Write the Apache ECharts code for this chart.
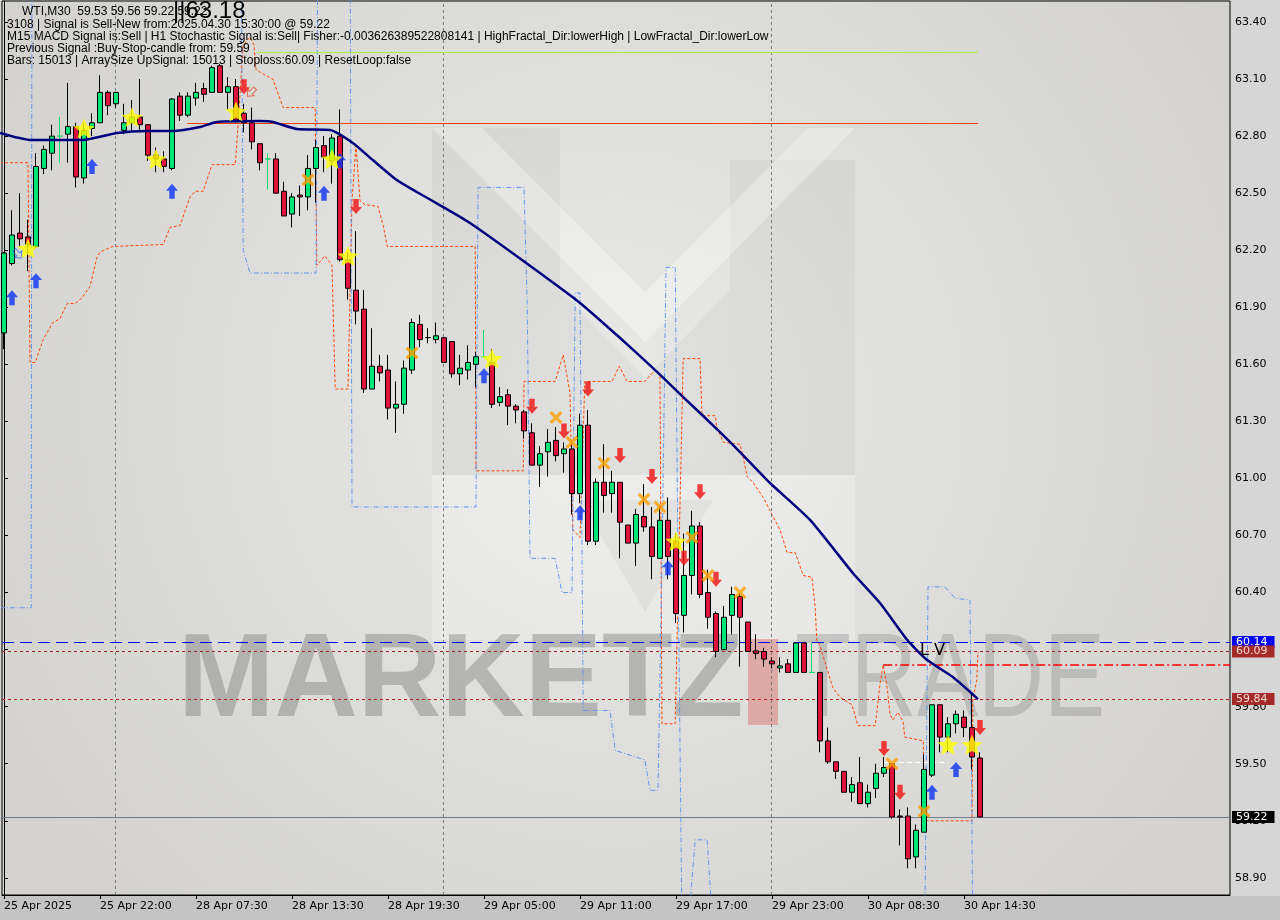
<!DOCTYPE html>
<html><head><meta charset="utf-8">
<script src="https://cdn.jsdelivr.net/npm/echarts@6.0.0/dist/echarts.min.js"></script>
<style>
html,body{margin:0;padding:0;}
#main{width:1280px;height:920px;background:linear-gradient(to bottom,#d6d6d6 0px,#d6d6d6 896px,#c4c4c4 896px,#c4c4c4 920px);}
</style>
</head><body><div id="main"></div>
<script>
// ---- candles (WTI M30), bar index 0..122 ----
const opens = [61.765,62.13,62.29,62.27,62.22,62.63,62.71,62.80,62.81,62.85,
62.58,62.84,62.87,63.03,62.97,62.83,62.87,62.90,62.86,62.70,
62.68,62.63,63.01,62.91,63.00,63.05,63.03,63.17,63.03,63.06,
62.92,62.87,62.76,62.68,62.68,62.51,62.39,62.49,62.48,62.63,
62.75,62.67,62.80,62.15,61.99,61.89,61.47,61.59,61.57,61.37,
61.39,61.57,61.81,61.74,61.73,61.74,61.72,61.55,61.57,61.60,
61.64,61.61,61.40,61.44,61.38,61.35,61.24,61.07,61.14,61.20,
61.13,61.155,60.92,61.28,60.67,60.98,60.92,60.98,60.755,60.66,
60.80,60.745,60.58,60.78,60.67,60.28,60.49,60.75,60.40,60.29,
60.10,60.28,60.38,60.245,60.093,60.09,60.04,60.003,60.025,59.98,
60.135,59.98,59.98,59.62,59.51,59.46,59.35,59.40,59.29,59.37,
59.45,59.50,59.225,59.225,59.01,59.14,59.44,59.81,59.64,59.71,
59.745,59.69,59.53];
const highs = [62.19,62.41,62.50,62.36,62.71,62.75,62.86,62.90,63.08,62.87,
62.87,62.92,63.12,63.04,63.03,62.97,62.99,63.10,62.86,62.74,
62.72,63.00,63.03,63.03,63.08,63.08,63.17,63.18,63.11,63.10,
62.97,62.95,62.76,62.71,62.71,62.56,62.50,62.54,62.70,62.78,
62.80,62.81,62.94,62.19,62.30,61.99,61.79,61.65,61.65,61.51,
61.62,61.84,61.86,61.79,61.82,61.74,61.72,61.65,61.70,61.665,
61.78,61.68,61.48,61.47,61.39,61.36,61.29,61.17,61.26,61.27,
61.19,61.19,61.34,61.36,61.00,61.18,61.04,60.98,60.755,60.84,
60.97,60.85,60.86,60.90,60.71,60.71,60.83,60.77,60.52,60.30,
60.33,60.43,60.40,60.245,60.18,60.11,60.06,60.06,60.05,60.135,
60.14,60.135,59.98,59.69,59.51,59.46,59.43,59.535,59.39,59.50,
59.535,59.50,59.26,59.27,59.18,59.55,59.81,59.81,59.745,59.78,
59.78,59.87,59.56];
const lows = [61.68,62.12,62.22,62.09,62.21,62.60,62.62,62.66,62.66,62.53,
62.55,62.80,62.87,62.91,62.95,62.81,62.82,62.82,62.67,62.61,
62.61,62.62,62.88,62.90,62.96,62.98,63.03,63.03,62.94,62.87,
62.82,62.73,62.62,62.52,62.50,62.38,62.32,62.38,62.41,62.45,
62.61,62.55,62.14,61.94,61.81,61.45,61.47,61.51,61.31,61.24,
61.34,61.55,61.69,61.71,61.71,61.61,61.53,61.49,61.52,61.48,
61.64,61.37,61.38,61.28,61.29,61.21,61.07,60.955,61.01,61.09,
61.03,60.81,60.87,60.65,60.65,60.82,60.82,60.58,60.66,60.54,
60.72,60.47,60.58,60.47,60.24,60.19,60.39,60.37,60.21,60.06,
60.10,60.18,60.01,60.09,60.05,60.01,60.00,59.98,59.98,59.98,
59.98,59.98,59.56,59.50,59.42,59.35,59.30,59.29,59.27,59.32,
59.43,59.21,59.07,58.95,58.95,59.14,59.43,59.56,59.56,59.66,
59.64,59.47,59.22];
const closes = [62.185,62.28,62.26,62.23,62.64,62.73,62.80,62.80,62.85,62.585,
62.83,62.87,63.03,62.96,63.03,62.87,62.90,62.86,62.70,62.68,
62.64,62.995,62.91,63.01,63.03,63.02,63.16,63.03,63.06,62.885,
62.87,62.77,62.66,62.68,62.50,62.38,62.48,62.48,62.63,62.74,
62.69,62.79,62.15,62.00,61.88,61.47,61.59,61.555,61.37,61.39,
61.58,61.82,61.73,61.741,61.75,61.61,61.55,61.58,61.61,61.64,
61.64,61.39,61.43,61.38,61.36,61.25,61.07,61.13,61.19,61.12,
61.155,60.92,61.28,60.67,60.98,60.91,60.98,60.77,60.66,60.81,
60.745,60.59,60.78,60.59,60.29,60.49,60.75,60.39,60.27,60.09,
60.27,60.39,60.27,60.09,60.08,60.05,60.025,60.014,59.98,60.135,
59.98,59.98,59.62,59.51,59.46,59.35,59.39,59.29,59.35,59.45,
59.48,59.22,59.22,59.00,59.15,59.47,59.81,59.64,59.71,59.76,
59.69,59.535,59.22];

// ---- axes ----
const tickBars = [0,12,24,36,48,60,72,84,96,108,120];
const tickLabels = ['25 Apr 2025','25 Apr 22:00','28 Apr 07:30','28 Apr 13:30','28 Apr 19:30','29 Apr 05:00','29 Apr 11:00','29 Apr 17:00','29 Apr 23:00','30 Apr 08:30','30 Apr 14:30'];
const yTicks = [58.90,59.20,59.50,59.80,60.10,60.40,60.70,61.00,61.30,61.60,61.90,62.20,62.50,62.80,63.10,63.40];

// ---- moving average ----
const maBars = [-0.5,3.25,9.875,14.125,17.875,21.125,24.5,26.625,32,33.6,36.6,40.75,43.6,46.1,49.1,51.6,54.9,58.25,65.1,72,76.6,81.1,84.9,89.5,92,95.75,100.75,106.1,109.5,112.9,115.4,118.6,121.75];
const maValues = [62.816,62.78,62.78,62.816,62.827,62.827,62.848,62.874,62.879,62.874,62.837,62.832,62.764,62.674,62.569,62.506,62.427,62.343,62.138,61.923,61.754,61.581,61.428,61.244,61.139,60.976,60.782,60.503,60.345,60.151,60.045,59.956,59.84];

// ---- upper (orange) channel ----
const upBandBars = [-0.5,3.0,3.25,3.9,4.9,6.1,7.0,7.9,8.9,9.75,10.75,11.6,12.0,13.6,19.9,20.75,22.0,23.25,23.9,24.9,26.0,28.9,29.1,29.5,29.9,30.75,31.25,31.5,32.25,33.6,34.9,38.9,39.1,40.1,41.0,41.4,43.0,43.5,44.0,44.5,45.1,46.75,47.4,47.9,58.9,59.0,64.9,65.0,68.9,69.9,70.75,71.1,72.0,72.6,76.0,76.9,77.9,80.1,81.4,82.0,82.25,83.9,84.9,87.0,87.25,88.9,89.1,89.9,92.0,92.4,92.9,93.6,94.9,96.0,97.0,97.9,98.9,99.9,101.0,101.4,101.6,102.0,103.6,104.5,106.0,106.75,108.9,109.1,109.5,109.9,110.4,110.75,111.1,111.75,112.4,112.6,114.9,115.1,121.0,121.1,121.6,121.75];
const upBandValues = [62.66,62.66,61.61,61.61,61.73,61.82,61.84,61.92,61.92,61.95,62.01,62.16,62.19,62.22,62.23,62.32,62.33,62.48,62.51,62.51,62.65,62.65,62.76,63.02,63.28,63.32,63.28,63.15,63.13,63.10,62.95,62.95,62.12,62.17,62.12,61.47,61.47,62.46,62.75,62.46,62.44,62.43,62.33,62.22,62.22,61.04,61.04,61.51,61.51,61.65,61.45,60.73,60.69,61.51,61.51,61.59,61.51,61.51,61.57,61.55,59.71,59.71,61.63,61.63,61.33,61.33,61.27,61.19,61.18,61.11,61.01,60.98,60.90,60.81,60.73,60.61,60.61,60.49,60.48,60.32,60.15,60.12,59.90,59.85,59.81,59.70,59.70,59.77,59.92,60.02,59.90,59.76,59.73,59.77,59.72,59.64,59.62,59.20,59.20,59.84,59.94,60.09];

// ---- lower (blue) channel ----
const lowBandBars = [-0.5,3.4,3.5,29.6,29.9,30.75,39.0,39.25,43.25,43.5,59.0,59.25,65.0,65.4,65.75,68.9,69.75,71.0,71.4,72.0,72.4,75.75,76.4,80.1,80.75,81.75,82.25,82.75,83.9,84.25,84.75,85.5,86.4,87.9,88.6,115.1,115.5,117.6,118.9,120.75,121.1];
const lowBandValues = [60.32,60.32,64.0,64.0,62.20,62.08,62.08,64.0,64.0,60.85,60.85,62.53,62.53,61.92,60.58,60.58,60.40,60.40,61.975,61.975,59.78,59.78,59.57,59.52,59.36,59.36,60.57,62.11,62.11,60.57,58.63,58.63,59.10,59.10,58.63,58.63,60.43,60.43,60.37,60.36,58.63];

// ---- signal markers ----
const upArrowBars = [1,4,11,21,40,42,60,72,83,116,119];
const upArrowPrices = [61.95,62.04,62.64,62.51,62.50,62.67,61.54,60.82,60.53,59.35,59.47];
const downArrowBars = [30,44,66,70,73,77,81,85,87,89,110,112,122];
const downArrowPrices = [63.06,62.43,61.38,61.25,61.47,61.12,61.01,60.58,60.93,60.47,59.58,59.35,59.69];
const starBars = [3,10,16,19,29,41,43,61,84,118,121];
const starPrices = [62.21,62.84,62.90,62.68,62.93,62.68,62.17,61.63,60.67,59.60,59.60];
const crossBars = [38,51,69,71,75,80,82,86,88,92,111,115];
const crossPrices = [62.57,61.66,61.32,61.19,61.08,60.89,60.85,60.69,60.49,60.40,59.50,59.25];
const hollowUpBars = [1.75];
const hollowUpPrices = [62.18];
const hollowDownBars = [30.9];
const hollowDownPrices = [63.03];

// ---- levels ----
const levelHigh = 60.14, levelStop = 60.09, levelRed = 59.84, levelLast = 59.22;
const entryLevel = 60.02, entryStartBar = 109.9;
const whiteLevel = 59.51, whiteBars = [109.9, 118];
const greenLevel = 63.24, greenBars = [31.6, 121.75];
const orangeLevel = 62.87, orangeBars = [22.9, 121.75];
const daySeparators = [13.875, 54.875, 95.875];

const headerLines = [
  'WTI,M30  59.53 59.56 59.22 59.22',
  '3108 | Signal is Sell-New from:2025.04.30 15:30:00 @ 59.22',
  'M15 MACD Signal is:Sell | H1 Stochastic Signal is:Sell| Fisher:-0.00362638952280814​1 | HighFractal_Dir:lowerHigh | LowFractal_Dir:lowerLow',
  'Previous Signal :Buy-Stop-candle from: 59.59',
  'Bars: 15013 | ArraySize UpSignal: 15013 | Stoploss:60.09 | ResetLoop:false'
];

const chart = echarts.init(document.getElementById('main'), null, {width:1280, height:920});
const pair = (xs, ys) => xs.map((x, i) => [x, ys[i]]);
const candleData = opens.map((o, i) => [i, o, closes[i], lows[i], highs[i]]);

const ARROW_UP = 'path://M6,0 L12,6.5 L8.7,6.5 L8.7,14 L3.3,14 L3.3,6.5 L0,6.5 Z';
const ARROW_DOWN = 'path://M6,14 L12,7.5 L8.7,7.5 L8.7,0 L3.3,0 L3.3,7.5 L0,7.5 Z';
const STAR = 'path://M10,0 L12.9,6.9 L20,7.6 L14.6,12.3 L16.2,19.5 L10,15.8 L3.8,19.5 L5.4,12.3 L0,7.6 L7.1,6.9 Z';
const CROSS = 'path://M0,2.5 L2.5,0 L7,4.5 L11.5,0 L14,2.5 L9.5,7 L14,11.5 L11.5,14 L7,9.5 L2.5,14 L0,11.5 L4.5,7 Z';

const lvlLabel = (txt, bg, fg) => ({show:true, position:'end', distance:2, formatter: txt, backgroundColor: bg, color: fg, fontSize:11, fontFamily:'DejaVu Sans', padding:[1,7,0,4]});

const option = {
  animation: false,
  backgroundColor: 'transparent',
  grid: {left:2, right:50, top:1, bottom:25, show:true, borderColor:'#000', borderWidth:1,
    backgroundColor: new echarts.graphic.RadialGradient(0.5, 0.45, 0.8, [{offset:0,color:'#e9e9e7'},{offset:1,color:'#d3d2cf'}])},
  xAxis: {type:'value', min:-0.25, max:153.25,
    axisLine:{show:true, lineStyle:{color:'#000'}},
    axisTick:{show:true, customValues: tickBars, length:4, lineStyle:{color:'#000'}},
    axisLabel:{customValues: tickBars, formatter: v => { const k = tickBars.indexOf(Math.round(v)); return k >= 0 ? tickLabels[k] : ''; },
      align:'left', margin:6, fontSize:11, fontFamily:'DejaVu Sans', color:'#000'},
    splitLine:{show:false}},
  yAxis: {type:'value', position:'right', min:58.8097, max:63.5104,
    axisLine:{show:true, lineStyle:{color:'#000'}},
    axisTick:{show:true, customValues: yTicks, length:4, lineStyle:{color:'#000'}},
    axisLabel:{customValues: yTicks, formatter: v => v.toFixed(2), margin:5, fontSize:11, fontFamily:'DejaVu Sans', color:'#000'},
    splitLine:{show:false}},
  graphic: [
    {type:'rect', z:1, silent:true, shape:{x:432,y:128,width:128,height:347}, style:{fill:'rgba(0,0,0,0.035)'}},
    {type:'rect', z:1, silent:true, shape:{x:730,y:160,width:125,height:315}, style:{fill:'rgba(0,0,0,0.035)'}},
    {type:'polygon', z:1, silent:true, shape:{points:[[560,290],[645,378],[730,290],[730,475],[560,475]]}, style:{fill:'rgba(0,0,0,0.03)'}},
    {type:'polygon', z:1, silent:true, shape:{points:[[432,128],[482,128],[645,292],[808,128],[855,128],[645,342]]}, style:{fill:'rgba(255,255,255,0.3)'}},
    {type:'rect', z:1, silent:true, shape:{x:432,y:475,width:423,height:165}, style:{fill:'rgba(255,255,255,0.25)'}},
    {type:'polygon', z:1, silent:true, shape:{points:[[580,500],[713,500],[645,612]]}, style:{fill:'rgba(0,0,0,0.04)'}},
    {type:'text', z:1, silent:true, x:178, y:683, scaleX:0.98, style:{text:'MARKETZ', font:'bold 118px "Liberation Sans"', fill:'rgba(110,110,110,0.38)', verticalAlign:'middle', align:'left'}},
    {type:'rect', z:1, silent:true, shape:{x:748,y:639,width:30,height:86}, style:{fill:'rgba(220,60,60,0.33)'}},
    {type:'text', z:1, silent:true, x:795, y:683, scaleX:0.775, style:{text:'TRADE', font:'118px "Liberation Sans"', fill:'rgba(120,120,120,0.3)', verticalAlign:'middle', align:'left'}},
    {type:'text', z:50, silent:true, x:920, y:643, style:{text:'L V', font:'16px "DejaVu Sans"', fill:'#000', verticalAlign:'top'}},
    {type:'text', z:100, silent:true, x:22, y:6, style:{text: headerLines[0], font:'12px "Liberation Sans"', fill:'#000', verticalAlign:'top'}},
    {type:'text', z:100, silent:true, x:7, y:19, style:{text: headerLines[1], font:'12px "Liberation Sans"', fill:'#000', verticalAlign:'top'}},
    {type:'text', z:100, silent:true, x:7, y:31, style:{text: headerLines[2], font:'12px "Liberation Sans"', fill:'#000', verticalAlign:'top'}},
    {type:'text', z:100, silent:true, x:7, y:43, style:{text: headerLines[3], font:'12px "Liberation Sans"', fill:'#000', verticalAlign:'top'}},
    {type:'text', z:100, silent:true, x:7, y:55, style:{text: headerLines[4], font:'12px "Liberation Sans"', fill:'#000', verticalAlign:'top'}},
    {type:'text', z:101, silent:true, x:173, y:-1, style:{text:'||63.18', font:'24px "Liberation Sans"', fill:'#000', verticalAlign:'top'}}
  ],
  series: [
    {type:'line', z:3, data:[[-10,0]], symbol:'none', silent:true,
      markLine:{silent:true, symbol:['none','none'], animation:false,
        data:[
          ...daySeparators.map(b => ({xAxis:b, lineStyle:{color:'#7a7a7a', type:[3,3], width:1}, label:{show:false}})),
          {yAxis: levelHigh, lineStyle:{color:'#0000ff', type:[12,6], width:1}, label: lvlLabel('60.14','#0000ff','#ffffff')},
          {yAxis: levelStop, lineStyle:{color:'#9a2424', type:[3,3], width:1}, label: lvlLabel('60.09','#a52a2a','#f0d8d0')},
          {yAxis: levelRed, lineStyle:{color:'#b02020', type:[3,3], width:1}, label: lvlLabel('59.84','#a52a2a','#f0d8d0')},
          {yAxis: levelLast, lineStyle:{color:'#6c7c8c', type:'solid', width:1}, label: lvlLabel('59.22','#000000','#ffffff')},
          [{coord:[entryStartBar, entryLevel], lineStyle:{color:'#ff0000', type:[9,3,2,3], width:1.5}, label:{show:false}}, {coord:[153.25, entryLevel]}],
          [{coord:[whiteBars[0], whiteLevel], lineStyle:{color:'#ffffff', type:[5,3], width:1}, label:{show:false}}, {coord:[whiteBars[1], whiteLevel]}],
          [{coord:[greenBars[0], greenLevel], lineStyle:{color:'#a8f040', type:'solid', width:1}, label:{show:false}}, {coord:[greenBars[1], greenLevel]}],
          [{coord:[orangeBars[0], orangeLevel], lineStyle:{color:'#ff4500', type:'solid', width:1.2}, label:{show:false}}, {coord:[orangeBars[1], orangeLevel]}]
        ]}},
    {type:'line', z:4, data: pair(upBandBars, upBandValues), symbol:'none', silent:true, lineStyle:{color:'#ff4500', width:1, type:[3,2]}},
    {type:'line', z:4, data: pair(lowBandBars, lowBandValues), symbol:'none', silent:true, lineStyle:{color:'#6495ed', width:1, type:[5,2,1,2]}},
    {type:'candlestick', z:5, data: candleData, encode:{x:0, y:[1,2,3,4]}, barWidth:5,
      itemStyle:{color:'#00e676', color0:'#dc143c', borderColor:'#000', borderColor0:'#000', borderColorDoji:'#00d96a', borderWidth:1}},
    {type:'line', z:6, data: pair(maBars, maValues), symbol:'none', silent:true, smooth:0.2, lineStyle:{color:'#00007f', width:2.5}},
    {type:'scatter', z:8, data: pair(upArrowBars, upArrowPrices), symbol: ARROW_UP, symbolSize:[12,15], itemStyle:{color:'#0a32f0'}},
    {type:'scatter', z:8, data: pair(downArrowBars, downArrowPrices), symbol: ARROW_DOWN, symbolSize:[12,15], itemStyle:{color:'#f01010'}},
    {type:'scatter', z:8, data: pair(hollowUpBars, hollowUpPrices), symbol: ARROW_UP, symbolRotate:-135, symbolSize:[9,11], itemStyle:{color:'transparent', borderColor:'#3070f0', borderWidth:1}},
    {type:'scatter', z:8, data: pair(hollowDownBars, hollowDownPrices), symbol: ARROW_UP, symbolRotate:135, symbolSize:[9,11], itemStyle:{color:'transparent', borderColor:'#e05030', borderWidth:1}},
    {type:'scatter', z:8, data: pair(starBars, starPrices), symbol: STAR, symbolSize:[21,20], itemStyle:{color:'#ffff00'}},
    {type:'scatter', z:8, data: pair(crossBars, crossPrices), symbol: CROSS, symbolSize:[13,13], itemStyle:{color:'#ffa000'}}
  ]
};
chart.setOption(option);
</script>
</body></html>
